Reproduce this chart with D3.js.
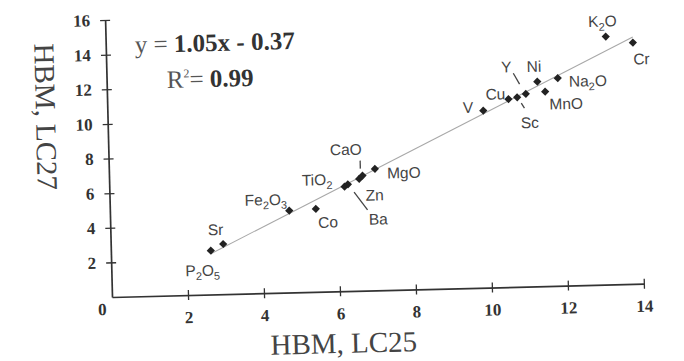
<!DOCTYPE html>
<html>
<head>
<meta charset="utf-8">
<script src="https://cdn.jsdelivr.net/npm/d3@7"></script>
<style>
  html, body { margin: 0; padding: 0; background: #fff; }
</style>
</head>
<body>
<div id="chart"></div>
<script>
const names = ['P2O5', 'Sr', 'Fe2O3', 'Co', 'TiO2', 'Ba', 'Zn', 'CaO', 'MgO',
  'V', 'Cu', 'Sc', 'Y', 'Ni', 'MnO', 'Na2O', 'K2O', 'Cr'];
const lc25 = [2.63, 2.96, 4.72, 5.42, 6.19, 6.28, 6.58, 6.67, 7.00,
  9.89, 10.56, 10.79, 11.02, 11.33, 11.53, 11.87, 13.16, 13.87];
const lc27 = [2.53, 2.90, 4.73, 4.79, 6.04, 6.17, 6.46, 6.65, 7.02,
  10.23, 10.85, 10.95, 11.13, 11.82, 11.23, 12.00, 14.33, 13.94];
const xTicks = [2, 4, 6, 8, 10, 12, 14];
const yTicks = [2, 4, 6, 8, 10, 12, 14, 16];

// label placement relative to the point (anchor, dx, dy, optional leader)
const labelPos = {
  P2O5: { a: 'start', dx: -26, dy: 25 },
  Sr: { a: 'start', dx: -15, dy: -9 },
  Fe2O3: { a: 'end', dx: -2, dy: -6 },
  Co: { a: 'start', dx: 2, dy: 19 },
  TiO2: { a: 'end', dx: -12, dy: -2 },
  Ba: { a: 'start', dx: 20, dy: 41, lead: [6, 8, 19, 26] },
  Zn: { a: 'start', dx: 6, dy: 22 },
  CaO: { a: 'middle', dx: -16, dy: -21, lead: [-2, -15, -2, -7] },
  MgO: { a: 'start', dx: 12, dy: 10 },
  V: { a: 'end', dx: -10, dy: 2 },
  Cu: { a: 'end', dx: -3, dy: 0 },
  Sc: { a: 'start', dx: 3, dy: 31, lead: [4, 6, 7, 11] },
  Y: { a: 'start', dx: -24, dy: -22, lead: [-12, -21, -6, -10] },
  Ni: { a: 'middle', dx: -3, dy: -10 },
  MnO: { a: 'start', dx: 4, dy: 18 },
  Na2O: { a: 'start', dx: 11, dy: 9 },
  K2O: { a: 'middle', dx: -3, dy: -10 },
  Cr: { a: 'start', dx: 0, dy: 22 },
};

const width = 684;
const height = 361;
const ox = 112, oy = 297;      // axis origin
const tilt = -1.43;            // the scanned figure is slightly rotated
const phi = -tilt * Math.PI / 180;

const serif = '"Liberation Serif", "Times New Roman", serif';
const sans = '"Liberation Sans", Arial, sans-serif';

const x = d3.scaleLinear().domain([0, 14]).range([ox, 644]);
const y = d3.scaleLinear().domain([0, 16]).range([oy, 20]);

// screen position -> position inside the rotated group
function frame(X, Y) {
  const dx = X - ox, du = oy - Y;
  const u = dx * Math.cos(phi) + du * Math.sin(phi);
  const v = -dx * Math.sin(phi) + du * Math.cos(phi);
  return [ox + u, oy - v];
}

const svg = d3.select('#chart')
  .append('svg')
  .attr('width', width)
  .attr('height', height)
  .attr('viewBox', [0, 0, width, height]);

const g = svg.append('g').attr('transform', `rotate(${tilt},${ox},${oy})`);

// axes
const xAxis = g.append('g')
  .attr('transform', `translate(0,${oy})`)
  .call(d3.axisBottom(x).tickValues(xTicks).tickSize(5).tickSizeOuter(0));
const yAxis = g.append('g')
  .attr('transform', `translate(${ox},0)`)
  .call(d3.axisLeft(y).tickValues(yTicks).tickSize(5).tickSizeOuter(0));

[xAxis, yAxis].forEach((ax) => {
  ax.select('.domain').attr('stroke', '#333').attr('stroke-width', 1.7);
  ax.selectAll('.tick line').attr('stroke', '#333').attr('stroke-width', 1.3);
  ax.selectAll('.tick text')
    .attr('fill', '#333')
    .style('font-family', serif)
    .style('font-weight', 'bold')
    .style('font-size', '17px');
});
xAxis.selectAll('.tick line').attr('y1', -5);
xAxis.selectAll('.tick text').attr('y', 28).attr('dy', 0);
yAxis.selectAll('.tick line').attr('x1', -5).attr('x2', 5);
yAxis.selectAll('.tick text').attr('x', -15);

g.append('text')
  .attr('x', 102).attr('y', 315)
  .attr('text-anchor', 'middle')
  .attr('fill', '#333')
  .style('font-family', serif)
  .style('font-weight', 'bold')
  .style('font-size', '17px')
  .text('0');

// axis titles
const xt = frame(344, 353);
g.append('text')
  .attr('x', xt[0]).attr('y', xt[1])
  .attr('text-anchor', 'middle')
  .attr('fill', '#444')
  .style('font-family', serif)
  .style('font-size', '29px')
  .text('HBM, LC25');

const yt = frame(36, 117);
g.append('text')
  .attr('transform', `translate(${yt[0]},${yt[1]}) rotate(90)`)
  .attr('text-anchor', 'middle')
  .attr('fill', '#444')
  .style('font-family', serif)
  .style('font-size', '29px')
  .text('HBM, LC27');

// least squares trend line over the data range
const n = lc25.length;
const mx = d3.mean(lc25), my = d3.mean(lc27);
const slope = d3.sum(lc25, (v, i) => (v - mx) * (lc27[i] - my)) /
  d3.sum(lc25, (v) => (v - mx) * (v - mx));
const icpt = my - slope * mx;
const [x0, x1] = d3.extent(lc25);
g.append('line')
  .attr('x1', x(x0)).attr('y1', y(slope * x0 + icpt))
  .attr('x2', x(x1)).attr('y2', y(slope * x1 + icpt))
  .attr('stroke', '#a8a8a8')
  .attr('stroke-width', 1);

// points
const pts = names.map((name, i) => ({ name, x: lc25[i], y: lc27[i] }));
const diamond = d3.symbol(d3.symbolSquare, 34)();

g.append('g')
  .selectAll('path')
  .data(pts)
  .enter()
  .append('path')
  .attr('d', diamond)
  .attr('transform', (d) => `translate(${x(d.x)},${y(d.y)}) rotate(45)`)
  .attr('fill', '#222');

// labels (digits in chemical formulas as subscripts)
const lab = g.append('g')
  .style('font-family', sans)
  .style('font-size', '15.5px')
  .attr('fill', '#444');

pts.forEach((d) => {
  const p = labelPos[d.name];
  const px = x(d.x), py = y(d.y);
  if (p.lead) {
    lab.append('line')
      .attr('x1', px + p.lead[0]).attr('y1', py + p.lead[1])
      .attr('x2', px + p.lead[2]).attr('y2', py + p.lead[3])
      .attr('stroke', '#444')
      .attr('stroke-width', 1.3);
  }
  const t = lab.append('text')
    .attr('x', px + p.dx)
    .attr('y', py + p.dy)
    .attr('text-anchor', p.a);
  const parts = d.name.match(/[A-Za-z]+|\d+/g);
  let sub = false;
  parts.forEach((s) => {
    const isNum = /\d/.test(s);
    const sp = t.append('tspan').text(s);
    if (isNum && !sub) {
      sp.attr('dy', 4).style('font-size', '11px');
      sub = true;
    } else if (!isNum && sub) {
      sp.attr('dy', -4);
      sub = false;
    } else if (isNum) {
      sp.style('font-size', '11px');
    }
  });
});

// regression equation
const eq = frame(135, 53);
const eqText = g.append('text')
  .attr('x', eq[0]).attr('y', eq[1])
  .style('font-family', serif)
  .style('font-size', '25px');
eqText.append('tspan').attr('fill', '#555').text('y = ');
eqText.append('tspan').attr('fill', '#333').style('font-weight', 'bold').text('1.05x - 0.37');

const r2 = frame(167, 88);
const r2Text = g.append('text')
  .attr('x', r2[0]).attr('y', r2[1])
  .style('font-family', serif)
  .style('font-size', '25px');
r2Text.append('tspan').attr('fill', '#555').text('R');
r2Text.append('tspan').attr('fill', '#555').attr('dy', -10).style('font-size', '12px').text('2');
r2Text.append('tspan').attr('fill', '#555').attr('dy', 10).text('= ');
r2Text.append('tspan').attr('fill', '#333').style('font-weight', 'bold').text('0.99');
</script>
</body>
</html>
